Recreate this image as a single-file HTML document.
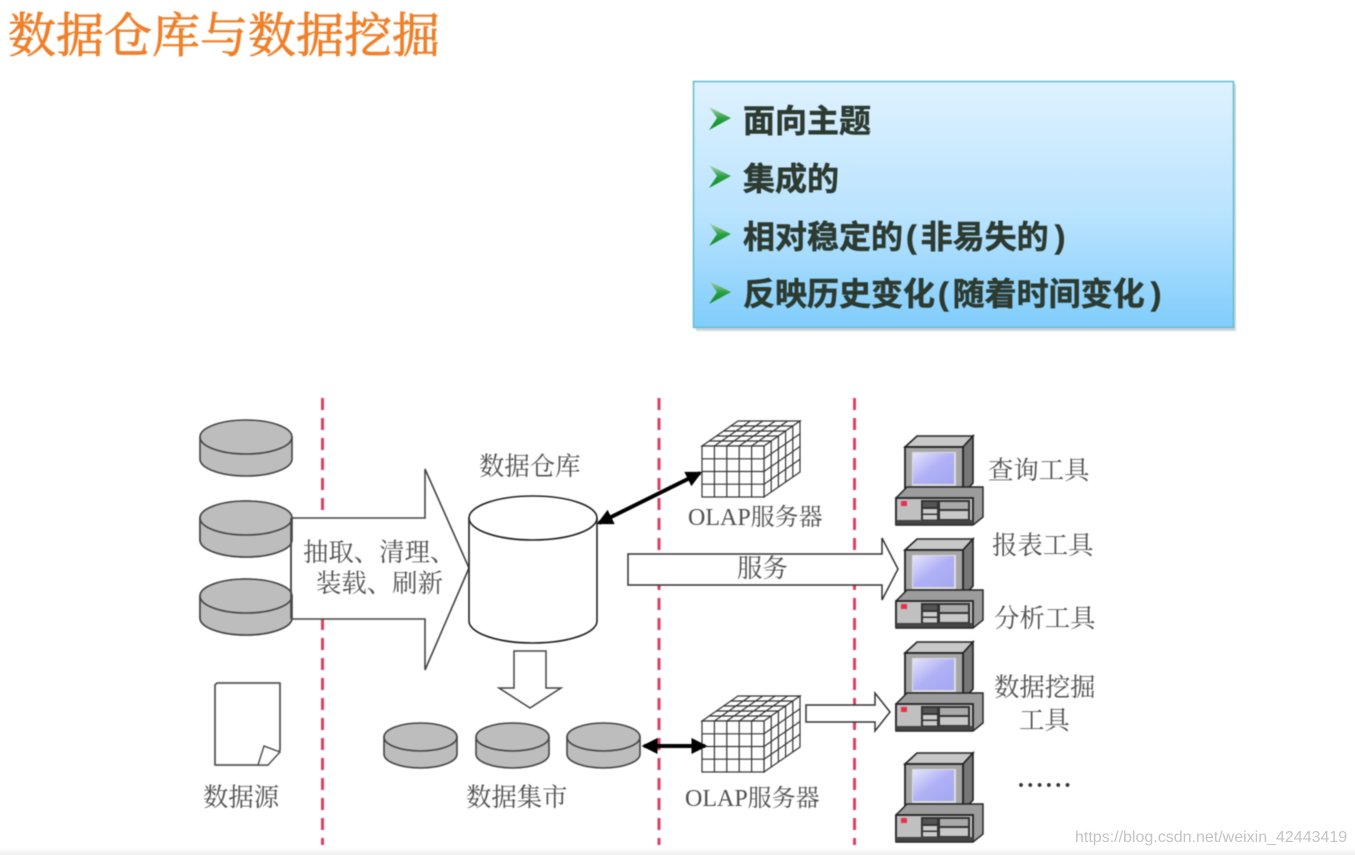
<!DOCTYPE html>
<html lang="zh"><head><meta charset="utf-8"><title>数据仓库与数据挖掘</title>
<style>
html,body{margin:0;padding:0;background:#fff}
#p{position:relative;width:1355px;height:855px;overflow:hidden;background:linear-gradient(#fff 848px,#eee)}
svg{position:absolute;left:0;top:0}
.s{font-family:"Liberation Serif","Noto Serif CJK SC",serif;fill:#505050;font-size:25.400px}
.b{font-family:"Liberation Sans","Noto Sans CJK SC",sans-serif;font-weight:700;font-size:32px;fill:#2c3a30;stroke:#2c3a30;stroke-width:.5px}
</style></head><body><div id="p">
<svg width="1355" height="855" viewBox="0 0 1355 855" xmlns="http://www.w3.org/2000/svg">
<defs>
<linearGradient id="bg" x1="0" y1="0" x2="0" y2="1"><stop offset="0" stop-color="#dff2ff"/><stop offset=".55" stop-color="#b9e3fe"/><stop offset="1" stop-color="#80cdfc"/></linearGradient>
<linearGradient id="ar" x1="0" y1="0" x2="0" y2="1"><stop offset="0" stop-color="#b8d4c0"/><stop offset=".5" stop-color="#2aa040"/><stop offset="1" stop-color="#0c8a24"/></linearGradient>
<linearGradient id="sc" x1="0" y1="0" x2="1" y2="1"><stop offset="0" stop-color="#e4e4fc"/><stop offset=".5" stop-color="#b0b0f6"/><stop offset="1" stop-color="#a4a8f0"/></linearGradient>
<marker id="mk" markerWidth="4" markerHeight="4" refX="3.4" refY="2" orient="auto-start-reverse" markerUnits="strokeWidth"><path d="M0,0L4,2L0,4Z" fill="#000"/></marker>
<g id="disc"><path d="M-46,17V39A46,17 0 0 0 46,39V17A46,17 0 0 0 -46,17Z" fill="#bdbdbd" stroke="#444" stroke-width="1.600"/><path d="M-46,17A46,17 0 0 0 46,17" fill="none" stroke="#444" stroke-width="1.600"/></g>
<g id="sd"><path d="M-36.500,14V31A36.500,14 0 0 0 36.500,31V14A36.500,14 0 0 0 -36.500,14Z" fill="#bdbdbd" stroke="#444" stroke-width="1.600"/><path d="M-36.500,14A36.500,14 0 0 0 36.500,14" fill="none" stroke="#444" stroke-width="1.600"/></g>
<g id="pc">
<path d="M10,12L22,1H78L68,12Z" fill="#c8c8c8" stroke="#222" stroke-width="1.600"/>
<path d="M68,12L78,1V48L68,59Z" fill="#777" stroke="#222" stroke-width="1.600"/>
<rect x="10" y="12" width="58" height="47" fill="#a6a6a6" stroke="#222" stroke-width="1.800"/>
<rect x="17" y="17" width="44" height="34" fill="#ddd"/>
<rect x="18" y="18" width="41" height="31" fill="url(#sc)"/>
<path d="M1,63L12,52H88V82L78,90H1Z" fill="#9c9c9c" stroke="#222" stroke-width="1.400"/>
<rect x="1" y="63" width="77" height="26" fill="#c0c0c0" stroke="#222" stroke-width="1.800"/>
<rect x="1" y="85" width="77" height="4.500" fill="#444"/>
<rect x="6" y="66" width="6" height="5" fill="#e8304a"/>
<rect x="26" y="65" width="49" height="20" fill="#333"/>
<rect x="28" y="67" width="14" height="5" fill="#555"/><rect x="28" y="74" width="14" height="4.500" fill="#ccc"/><rect x="28" y="80" width="14" height="4.500" fill="#ccc"/>
<rect x="45" y="67" width="28" height="7" fill="#aaa"/><rect x="45" y="76" width="28" height="8" fill="#c8c8c8"/>
</g>
<g id="cube" fill="#fff" stroke="#333" stroke-width="1.200">
<path d="M702,446L738,421H800L764,446Z"/><path d="M764,446L800,421V472L764,497Z"/>
<rect x="702" y="446" width="62" height="51"/>
<path fill="none" d="M714.400,446V497M726.800,446V497M739.200,446V497M751.600,446V497M702,458.800H764M702,471.500H764M702,484.200H764
M714.400,446L750.400,421M726.800,446L762.800,421M739.200,446L775.200,421M751.600,446L787.600,421
M709.200,441H771.200M716.400,436H778.400M723.600,431H785.600M730.800,426H792.800
M771.200,441V492M778.400,436V487M785.600,431V482M792.800,426V477
M764,458.800L800,433.800M764,471.500L800,446.500M764,484.200L800,459.200"/>
</g>
<path id="tri" d="M0,0L22,11L0,23L8,11Z" fill="url(#ar)"/>
</defs>

<g style="filter:blur(.5px)">
<text x="8" y="52" font-family="'Liberation Serif','Noto Serif CJK SC',serif" font-size="48" fill="#f0802a" stroke="#f07a20" stroke-width=".7">数据仓库与数据挖掘</text>

<rect x="696" y="84" width="540" height="247" fill="#9aa7ae" opacity=".45"/>
<rect x="693.500" y="81.500" width="540" height="246" fill="url(#bg)" stroke="#62bcd0" stroke-width="1.500"/>
<use href="#tri" x="709" y="107"/><use href="#tri" x="709" y="165"/><use href="#tri" x="709" y="223"/><use href="#tri" x="709" y="281"/>
<text class="b" x="743" y="132">面向主题</text>
<text class="b" x="743" y="190">集成的</text>
<text class="b" x="743" y="248">相对稳定的<tspan dx="3">(</tspan><tspan dx="4">非易失的</tspan><tspan dx="6">)</tspan></text>
<text class="b" x="743" y="305">反映历史变化<tspan dx="3">(</tspan><tspan dx="4">随着时间变化</tspan><tspan dx="6">)</tspan></text>

<g stroke="#dc4064" stroke-width="3" stroke-dasharray="12 8" fill="none">
<path d="M322.500,398V845M659,398V845M854.500,398V845"/>
</g>

<use href="#disc" x="246" y="420"/><use href="#disc" x="246" y="501"/><use href="#disc" x="246" y="579"/>

<path d="M291,518H425V469L469,568L425,670V619H291Z" fill="#fff" stroke="#444" stroke-width="1.600"/>
<use href="#disc" x="246" y="501"/><use href="#disc" x="246" y="579"/>
<path d="M291,518V619" stroke="#444" stroke-width="1.600"/>
<text class="s" x="303" y="561">抽取、清理、</text>
<text class="s" x="316" y="592">装载、刷新</text>

<text class="s" x="479" y="475">数据仓库</text>
<path d="M469,518V621A64,22 0 0 0 597,621V518A64,22 0 0 0 469,518Z" fill="#fff" stroke="#222" stroke-width="1.600"/>
<path d="M469,518A64,22 0 0 0 597,518" fill="none" stroke="#222" stroke-width="1.600"/>

<use href="#cube"/>
<use href="#cube" y="275"/>
<text class="s" x="688" y="525" style="font-size:24px">OLAP服务器</text>
<text class="s" x="685" y="806" style="font-size:24px">OLAP服务器</text>

<path d="M599,523L700,473" stroke="#000" stroke-width="4" marker-start="url(#mk)" marker-end="url(#mk)"/>
<path d="M644,746H705" stroke="#000" stroke-width="4" marker-start="url(#mk)" marker-end="url(#mk)"/>

<path d="M628,554H882V538L898,569L882,600V585H628Z" fill="#fff" stroke="#333" stroke-width="1.500"/>
<text class="s" x="737" y="577">服务</text>

<path d="M514,651H546V688H561L530,708L499,688H514Z" fill="#fff" stroke="#444" stroke-width="1.500"/>
<path d="M806,705H875V693L890,712L875,731V722H806Z" fill="#fff" stroke="#333" stroke-width="1.500"/>

<use href="#sd" x="420.500" y="723"/><use href="#sd" x="512.500" y="723"/><use href="#sd" x="603.500" y="723"/>
<text class="s" x="466" y="806">数据集市</text>

<path d="M217,683H280V750L268,765H215V685Z" fill="#fff" stroke="#555" stroke-width="1.800" stroke-linejoin="round"/>
<path d="M258,765L264,746L280,752L268,765Z" fill="#fff" stroke="#555" stroke-width="1.500"/>
<text class="s" x="203" y="806">数据源</text>

<use href="#pc" x="895" y="435"/><use href="#pc" x="895" y="538"/><use href="#pc" x="895" y="641"/><use href="#pc" x="895" y="752"/>

<text class="s" x="988" y="479">查询工具</text>
<text class="s" x="992" y="554">报表工具</text>
<text class="s" x="994" y="627">分析工具</text>
<text class="s" x="994" y="696">数据挖掘</text>
<text class="s" x="1019" y="729">工具</text>
<text class="s" x="1018" y="787" style="font-size:24px;letter-spacing:3.300px;font-weight:700;fill:#333">......</text>
</g>
<text x="1075" y="842" font-family="'Liberation Sans',sans-serif" font-size="16" fill="#c4c4c4">https://blog.csdn.net/weixin_42443419</text>
</svg>
</div></body></html>
